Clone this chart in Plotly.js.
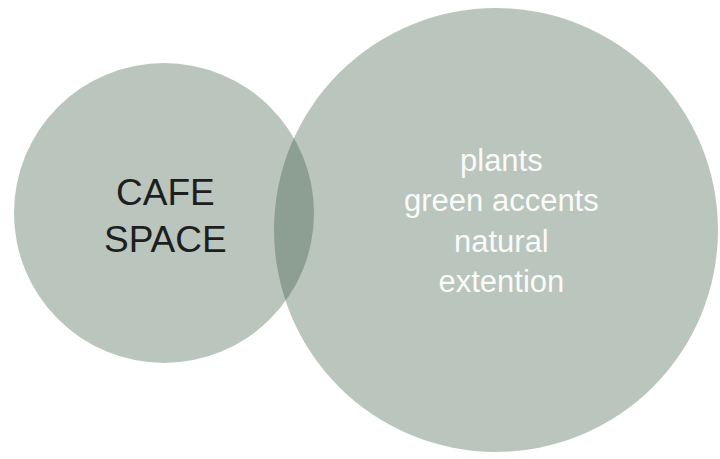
<!DOCTYPE html>
<html>
<head>
<meta charset="utf-8">
<script src="https://cdn.plot.ly/plotly-3.0.1.min.js"></script>
<style>html,body{margin:0;padding:0;background:#fff;}#chart{width:720px;height:459px;}</style>
</head>
<body>
<div id="chart"></div>
<script>
// Sets (circle centre x, centre y, radius in pixel-like units; y grows downward)
const setNames = ["CAFE SPACE", "NATURE"];
const centerX = [164, 496];
const centerY = [213, 230];
const radius = [150, 222];
const leftLabelLines = ["CAFE", "SPACE"];
const rightLabelLines = ["plants", "green accents", "natural", "extention"];

const fillColor = "rgb(58,89,66)";
const shapes = centerX.map((cx, i) => ({
  type: "circle", xref: "x", yref: "y",
  x0: cx - radius[i], x1: cx + radius[i],
  y0: centerY[i] - radius[i], y1: centerY[i] + radius[i],
  fillcolor: fillColor, opacity: 0.35, line: {width: 0}, layer: "below"
}));

const leftLineGap = 47;
const annotations = leftLabelLines.map((t, i) => ({
  x: 165, y: 192 + i * leftLineGap, xref: "x", yref: "y", text: t, showarrow: false,
  font: {family: "Liberation Sans, Arial, sans-serif", size: 37, color: "#1e1e1e"}
}));
annotations.push({x: 501, y: 221, xref: "x", yref: "y", text: rightLabelLines.join("<br>"), showarrow: false,
   font: {family: "Liberation Sans, Arial, sans-serif", size: 31, color: "#fafafa"}, align: "center"});

Plotly.newPlot("chart", [{x: centerX, y: centerY, type: "scatter", mode: "markers",
  marker: {opacity: 0}, hoverinfo: "skip", text: setNames, showlegend: false}], {
  width: 720, height: 459,
  margin: {l: 0, r: 0, t: 0, b: 0},
  paper_bgcolor: "#ffffff", plot_bgcolor: "#ffffff",
  xaxis: {range: [0, 720], visible: false, fixedrange: true},
  yaxis: {range: [459, 0], visible: false, fixedrange: true},
  shapes: shapes, annotations: annotations, showlegend: false
}, {staticPlot: true, displayModeBar: false});
</script>
</body>
</html>
